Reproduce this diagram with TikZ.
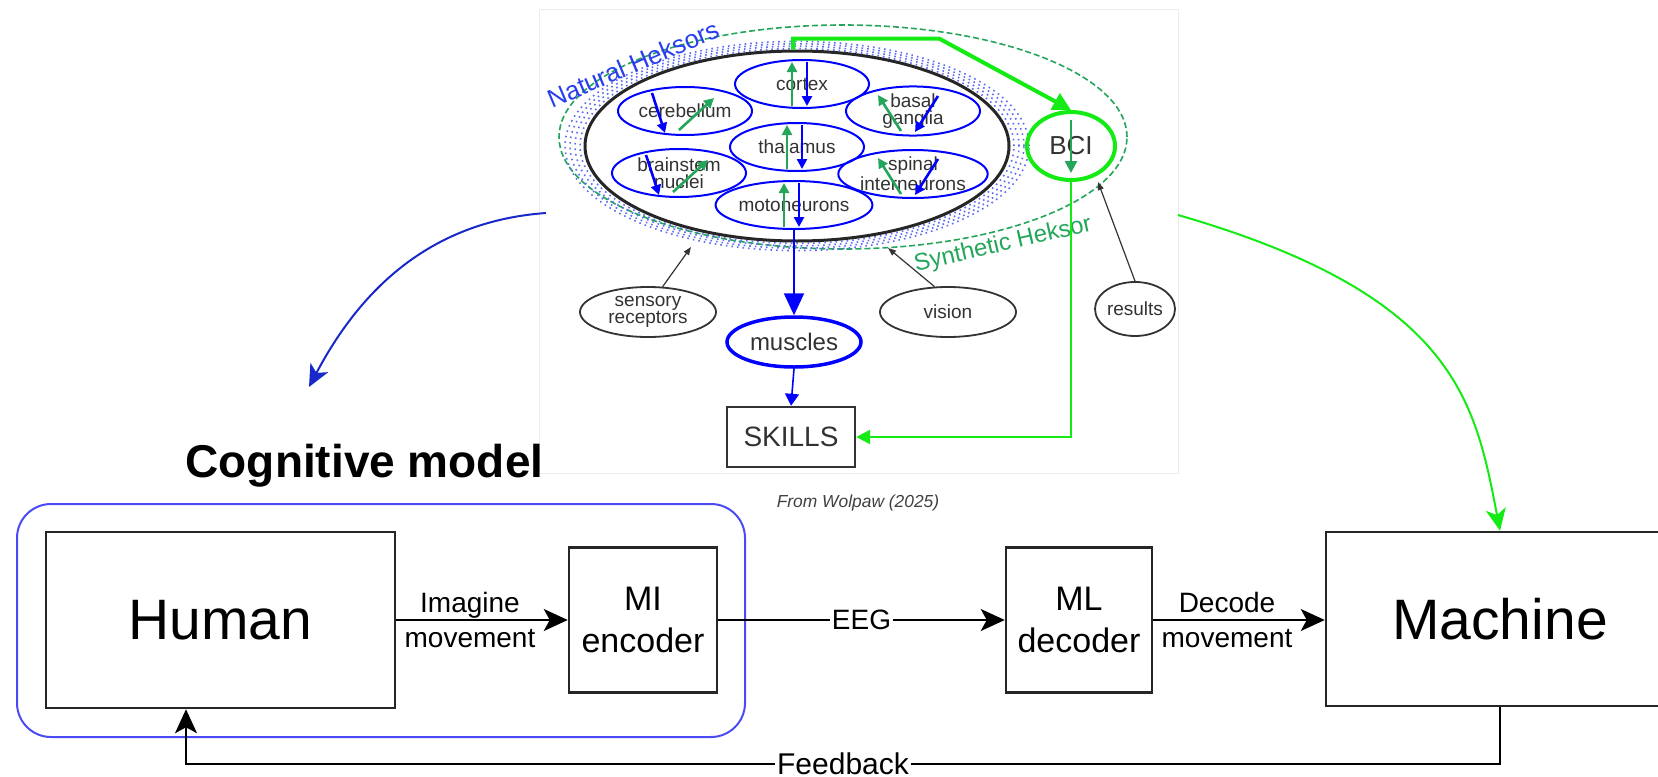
\documentclass[tikz,border=0pt]{standalone}
\usepackage{fontspec}
\setmainfont{Liberation Sans}
\usetikzlibrary{positioning, arrows.meta, shapes.geometric}

\definecolor{heksorgreen}{RGB}{35,165,90}
\definecolor{bcigreen}{RGB}{20,235,20}
\definecolor{heksorblue}{RGB}{40,60,240}
\definecolor{modelblue}{RGB}{75,75,245}
\definecolor{curveblue}{RGB}{25,40,200}
\definecolor{labelgray}{RGB}{50,50,50}

\begin{document}
\begin{tikzpicture}[x=0.5pt, y=-0.5pt,
                blockbox/.style={rectangle, draw=black!85, line width=1.25pt, inner sep=0pt, align=center},
                bigtext/.style={font=\fontsize{28.5}{30}\selectfont},
                midtext/.style={font=\fontsize{17}{21}\selectfont},
                edgetext/.style={font=\fontsize{14}{17.5}\selectfont, align=center, inner sep=1pt},
                flow/.style={line width=1pt, -{Stealth[length=12pt, width=11pt, inset=3pt]}},
                region/.style={ellipse, draw=blue, line width=1pt, minimum width=67pt, minimum height=24pt, inner sep=0pt, align=center, text=labelgray, font=\fontsize{9.5}{8.5}\selectfont},
                inputnode/.style={ellipse, draw=black!80, line width=0.9pt, minimum width=68pt, minimum height=25pt, inner sep=0pt, align=center, text=labelgray, font=\fontsize{9.5}{8.5}\selectfont},
                uparrow/.style={heksorgreen, line width=1.3pt, -{Triangle[length=5pt, width=5pt]}},
                downarrow/.style={blue, line width=1.3pt, -{Triangle[length=5pt, width=5pt]}},
                inarrow/.style={black!80, line width=0.6pt, -{Triangle[length=4pt, width=3pt]}},
                ]
                \useasboundingbox (0,0) rectangle (1658,776);
                \clip (0,0) rectangle (1658,776);

                %Nodes: heksor figure
                \node[draw=black!7, minimum width=319.5pt, minimum height=232pt] (wolpaw) at (858.5,241) {};
                \node[ellipse, draw=heksorgreen, dash pattern=on 3pt off 1.5pt, line width=0.8pt, minimum width=284pt, minimum height=112pt, inner sep=0pt] (synthetic) at (843,137) {};
                \foreach \k in {1,...,4}
                    \draw[heksorblue!75, dotted, line width=0.8pt] (797,146) ellipse [x radius={106pt+2.5*\k pt}, y radius={47.5pt+1.2*\k pt}];
                \node[ellipse, draw=black!85, line width=1.5pt, minimum width=212pt, minimum height=95pt, inner sep=0pt] (cns) at (797,146) {};

                \node[region] (cortex)     at (802,84)  {cortex};
                \node[region] (cerebellum) at (685,111) {cerebellum};
                \node[region] (basal)      at (913,111) {basal\\ganglia};
                \node[region] (thalamus)   at (797,147) {thalamus};
                \node[region] (brainstem)  at (679,173) {brainstem\\nuclei};
                \node[region] (spinal)     at (913,174) {spinal\\interneurons};
                \node[region] (moto)       at (794,205) {motoneurons};

                \node[ellipse, draw=bcigreen, line width=2pt, minimum width=44pt, minimum height=34pt, inner sep=0pt, text=labelgray, font=\fontsize{13}{13}\selectfont] (bci) at (1071,146) {BCI};
                \node[ellipse, draw=blue, line width=1.75pt, minimum width=67pt, minimum height=25pt, inner sep=0pt, text=labelgray, font=\fontsize{12}{12}\selectfont] (muscles) at (794,342) {muscles};
                \node[draw=black!80, line width=1.2pt, minimum width=64pt, minimum height=30pt, text=labelgray, font=\fontsize{14}{14}\selectfont] (skills) at (791,437) {SKILLS};

                \node[inputnode] (sensory) at (648,312) {sensory\\receptors};
                \node[inputnode] (vision)  at (948,312) {vision};
                \node[inputnode, minimum width=40pt, minimum height=27pt] (results) at (1135,309) {results};

                \node[rotate=23, text=heksorblue, font=\fontsize{12.8}{13}\selectfont] (natural) at (633,64) {Natural Heksors};
                \node[rotate=13, text=heksorgreen, font=\fontsize{12}{12}\selectfont] (synthlabel) at (1003,245) {Synthetic Heksor};
                \node[font=\itshape\fontsize{8.7}{9}\selectfont, text=black!75] (source) at (858,503) {From Wolpaw (2025)};

                \coordinate (sensorytip) at (691,247);
                \coordinate (visiontip)  at (888,248);
                \coordinate (resultstip) at (1098,182);

                %Lines: heksor figure
                \foreach \r in {cortex, thalamus, moto} {
                    \draw[uparrow] ([shift={(-10,22)}]\r.center) -- ([shift={(-10,-22)}]\r.center);
                    \draw[downarrow] ([shift={(5,-22)}]\r.center) -- ([shift={(5,22)}]\r.center);
                }
                \foreach \r in {cerebellum, brainstem} {
                    \draw[downarrow] ([shift={(-33,-18)}]\r.center) -- ([shift={(-20,22)}]\r.center);
                    \draw[uparrow] ([shift={(-6,19)}]\r.center) -- ([shift={(29,-13)}]\r.center);
                }
                \foreach \r in {basal, spinal} {
                    \draw[uparrow] ([shift={(-12,20)}]\r.center) -- ([shift={(-35,-16)}]\r.center);
                    \draw[downarrow] ([shift={(25,-15)}]\r.center) -- ([shift={(2,21)}]\r.center);
                }
                \draw[heksorgreen, line width=1.3pt, -{Triangle[length=6pt, width=6pt]}] ([yshift=13pt]bci.center) -- ([yshift=-13.5pt]bci.center);

                \draw[bcigreen, line width=2pt, -{Triangle[length=9pt, width=9pt]}] ([xshift=-2pt]cns.north) -- ++(0,-11) -- ++(146,0) -- (bci.north);
                \draw[bcigreen, line width=1.2pt, -{Triangle[length=7pt, width=7pt]}] (bci.south) |- (skills.east);
                \draw[blue, line width=1.1pt, -{Triangle[length=11pt, width=10pt]}] (moto.south) -- (muscles.north);
                \draw[blue, line width=0.8pt, -{Triangle[length=6pt, width=7pt]}] (muscles.south) -- (skills.north);

                \draw[inarrow] (sensory.60) -- (sensorytip);
                \draw[inarrow] (vision.118) -- (visiontip);
                \draw[inarrow] (results.north) -- (resultstip);

                %Nodes: BCI loop
                \draw[modelblue, line width=1pt, rounded corners=17pt] (17,504) rectangle (745,737);
                \node[anchor=base, font=\bfseries\fontsize{23}{23}\selectfont] (modeltitle) at (364.5,477) {Cognitive model};
                \node[blockbox, bigtext, minimum width=174.5pt, minimum height=88pt] (human) at (220.5,620) {Human};
                \node[blockbox, midtext, minimum width=74pt, minimum height=72.5pt] (mienc) at (643,620) {MI\\encoder};
                \node[blockbox, midtext, minimum width=73pt, minimum height=72.5pt] (mldec) at (1079,620) {ML\\decoder};
                \node[blockbox, bigtext, minimum width=174pt, minimum height=87pt] (machine) at (1500,619) {Machine};

                %Lines: BCI loop
                \draw[flow] (human) -- node[edgetext, pos=0.43] {Imagine\\movement} (mienc);
                \draw[flow] (mienc) -- node[edgetext, fill=white] {EEG} (mldec);
                \draw[flow] (mldec) -- node[edgetext, pos=0.43] {Decode\\movement} (machine.west |- mldec);
                \draw[flow] (machine.south) -- ++(0,57) -| node[edgetext, fill=white, pos=0.25, font=\fontsize{15}{15}\selectfont] {Feedback} ([xshift=-17.25pt]human.south);

                \coordinate (wolpawleft) at (546,213);
                \coordinate (cognitiveaim) at (309,387);
                \coordinate (wolpawright) at (1178,215);
                \draw[curveblue, line width=1pt, -{Stealth[length=11pt, width=10pt, inset=3pt]}] (wolpawleft) .. controls (420,222) and (354,302) .. (cognitiveaim);
                \draw[bcigreen, line width=1pt, -{Stealth[length=11pt, width=10pt, inset=3pt]}] (wolpawright) .. controls (1455,295) and (1475,400) .. (machine.north);
\end{tikzpicture}
\end{document}
